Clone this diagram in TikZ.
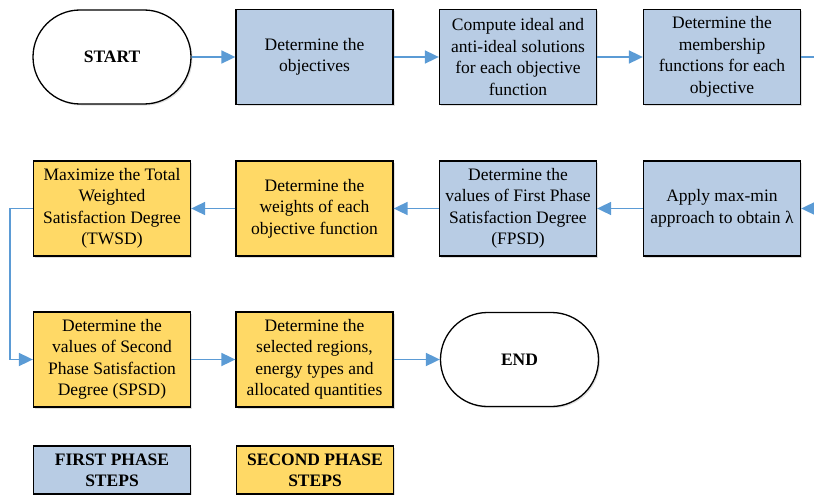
\documentclass[tikz,border=0pt]{standalone}
\usepackage{fontspec}
\setmainfont{Liberation Serif}
\usetikzlibrary{arrows.meta,shapes.misc,shadows}
\definecolor{phaseone}{HTML}{B8CCE4}
\definecolor{phasetwo}{HTML}{FFD966}
\definecolor{flowblue}{HTML}{5B9BD5}
\begin{document}
\begin{tikzpicture}[x=1pt,y=-1pt,
  softshadow/.style={drop shadow={shadow xshift=1.5pt, shadow yshift=-1.5pt, fill=black, opacity=0.12}},
  box/.style={draw=black, line width=1.3pt, minimum width=157pt, minimum height=95pt,
    align=center, inner sep=0pt, font=\fontsize{17.5}{21.5}\selectfont, softshadow},
  bluebox/.style={box, fill=phaseone},
  yellowbox/.style={box, fill=phasetwo},
  term/.style={draw=black, line width=1.3pt, rounded rectangle, fill=white,
    minimum width=158pt, minimum height=94pt, inner sep=0pt,
    font=\fontsize{17.5}{21.5}\selectfont\bfseries, softshadow},
  legend/.style={draw=black, line width=1.3pt, minimum width=157pt, minimum height=48pt,
    align=center, inner sep=0pt, font=\fontsize{17.5}{21}\selectfont\bfseries, softshadow},
  flow/.style={draw=flowblue, line width=1.8pt},
  arrow/.style={flow, -{Triangle[length=14pt,width=13pt]}}
]
\useasboundingbox (0,0) rectangle (814,495);

% Row 1
\node[term] (start) at (112,57) {START};
\node[bluebox] (obj) at (314.5,57) {Determine the\\objectives};
\node[bluebox] (ideal) at (518,57) {Compute ideal and\\anti-ideal solutions\\for each objective\\function};
\node[bluebox] (memb) at (722,57) {Determine the\\membership\\functions for each\\objective};

% Row 2
\node[yellowbox] (twsd) at (112,208.5) {Maximize the Total\\Weighted\\Satisfaction Degree\\(TWSD)};
\node[yellowbox] (weights) at (314.5,208.5) {Determine the\\weights of each\\objective function};
\node[bluebox] (fpsd) at (518,208.5) {Determine the\\values of First Phase\\Satisfaction Degree\\(FPSD)};
\node[bluebox] (apply) at (722,208.5) {Apply max-min\\approach to obtain λ};

% Row 3
\node[yellowbox] (spsd) at (112,359.5) {Determine the\\values of Second\\Phase Satisfaction\\Degree (SPSD)};
\node[yellowbox] (sel) at (314.5,359.5) {Determine the\\selected regions,\\energy types and\\allocated quantities};
\node[term] (end) at (519.5,359.5) {END};

% Legend
\node[legend, fill=phaseone] (leg1) at (112,470) {FIRST PHASE\\STEPS};
\node[legend, fill=phasetwo] (leg2) at (315,470) {SECOND PHASE\\STEPS};

% Edge coordinates
\coordinate (r1) at (814,57);
\coordinate (r2) at (814,208.5);
\coordinate (l1) at (10,208.5);
\coordinate (l2) at (10,359.5);

% Connectors
\draw[arrow] (start) -- (obj);
\draw[arrow] (obj) -- (ideal);
\draw[arrow] (ideal) -- (memb);
\draw[flow] (memb) -- (r1);
\draw[arrow] (r2) -- (apply);
\draw[arrow] (apply) -- (fpsd);
\draw[arrow] (fpsd) -- (weights);
\draw[arrow] (weights) -- (twsd);
\draw[arrow] (twsd.west) -- (l1) -- (l2) -- (spsd.west);
\draw[arrow] (spsd) -- (sel);
\draw[arrow] (sel) -- (end);
\end{tikzpicture}
\end{document}
